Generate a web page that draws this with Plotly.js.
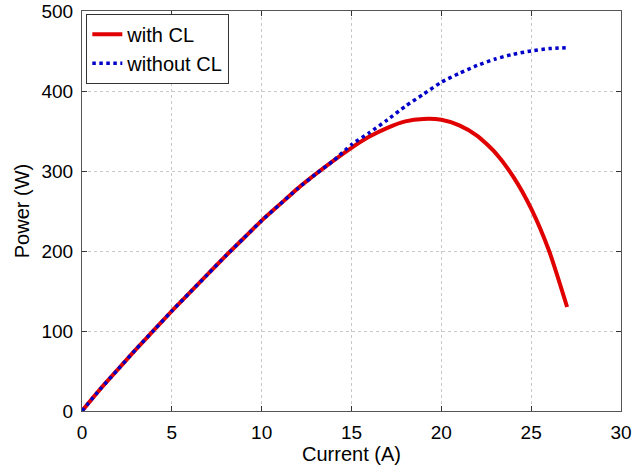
<!DOCTYPE html>
<html>
<head>
<meta charset="utf-8">
<script src="https://cdn.plot.ly/plotly-3.0.1.min.js"></script>
<style>html,body{margin:0;padding:0;background:#fff;}#chart{width:633px;height:470px;}</style>
</head>
<body>
<div id="chart"></div>
<script>
var currentWith = [0,1,2,3,4,5,6,7,8,9,10,11,12,13,14,15,16,17,18,19,20,21,22,23,24,25,26,27];
var powerWith = [0,27,52,77,101,125,148,171,194,216,238,258,278,296,313,329,343,354,362,365,364,357,344,323,293,253,200,130];
var currentWithout = [0,1,2,3,4,5,6,7,8,9,10,11,12,13,14,15,16,17,18,19,20,21,22,23,24,25,26,27];
var powerWithout = [0,27,52,77,101,125,148,171,194,216,238,258,278,296,313,333,348,364,381,396,411,422,432,440,446,450,453,454];
var xTicks = [0,5,10,15,20,25,30];
var yTicks = [0,100,200,300,400,500];

var FONT = 'Liberation Sans, Arial, sans-serif';
var traces = [
  {x: currentWith, y: powerWith, name: 'with CL', mode: 'lines', line: {color: '#e00000', width: 4, shape: 'spline', smoothing: 0.6}},
  {x: currentWithout, y: powerWithout, name: 'without CL', mode: 'lines', line: {color: '#0000c8', width: 3.5, dash: 'dot', shape: 'spline', smoothing: 0.6}}
];
var axisCommon = {
  showline: true, linecolor: '#555', linewidth: 1, mirror: 'allticks',
  ticks: 'inside', ticklen: 5, tickcolor: '#333',
  showgrid: true, gridcolor: '#c8c8c8', griddash: 'dot', gridwidth: 1,
  zeroline: false, ticklabelstandoff: 4, ticklabeloverflow: 'allow',
  tickfont: {family: FONT, size: 19, color: '#000'}
};
var layout = {
  width: 633, height: 470,
  margin: {l: 82, r: 12, t: 11, b: 59},
  paper_bgcolor: '#fff', plot_bgcolor: '#fff',
  showlegend: true,
  legend: {x: 0.008, y: 0.993, xanchor: 'left', yanchor: 'top', bordercolor: '#333', borderwidth: 1, bgcolor: '#fff',
           font: {family: FONT, size: 20, color: '#000'}, tracegroupgap: 0},
  xaxis: Object.assign({}, axisCommon, {range: [0, 30], tickvals: xTicks, ticktext: xTicks.map(String),
    title: {text: 'Current (A)', font: {family: FONT, size: 20, color: '#000'}, standoff: 2}}),
  yaxis: Object.assign({}, axisCommon, {range: [0, 500], tickvals: yTicks, ticktext: yTicks.map(String),
    title: {text: 'Power (W)', font: {family: FONT, size: 20, color: '#000'}, standoff: 6}})
};
Plotly.newPlot('chart', traces, layout, {displayModeBar: false, staticPlot: true});
</script>
</body>
</html>
